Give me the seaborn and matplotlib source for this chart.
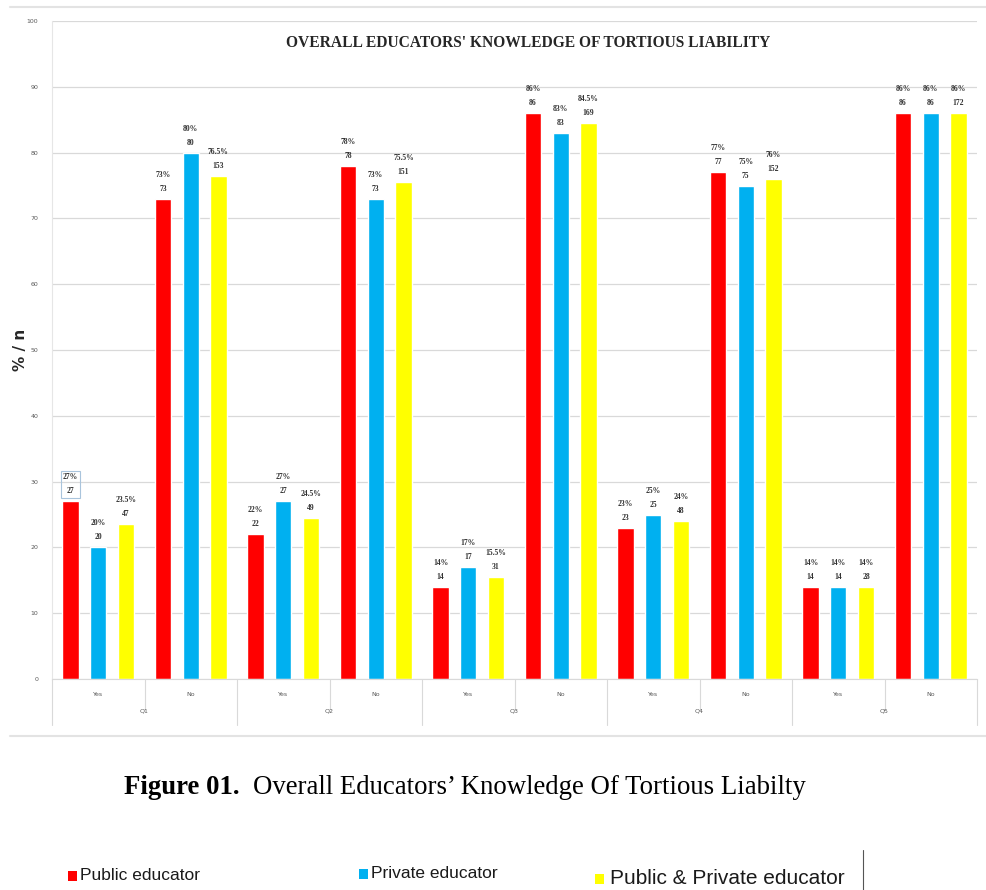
import pandas as pd
import seaborn as sns
import matplotlib.pyplot as plt
from matplotlib.lines import Line2D
from matplotlib.patches import Rectangle

questions = ['Q1', 'Q2', 'Q3', 'Q4', 'Q5']
answers = ['Yes', 'No']
series = ['Public educator', 'Private educator', 'Public & Private educator']
colors = ['#ff0000', '#00b0f0', '#ffff00']

public_pct = [27, 73, 22, 78, 14, 86, 23, 77, 14, 86]
private_pct = [20, 80, 27, 73, 17, 83, 25, 75, 14, 86]
both_pct = [23.5, 76.5, 24.5, 75.5, 15.5, 84.5, 24, 76, 14, 86]
public_n = [27, 73, 22, 78, 14, 86, 23, 77, 14, 86]
private_n = [20, 80, 27, 73, 17, 83, 25, 75, 14, 86]
both_n = [47, 153, 49, 151, 31, 169, 48, 152, 28, 172]

cats = [q + ' ' + a for q in questions for a in answers]
pcts = [public_pct, private_pct, both_pct]
counts = [public_n, private_n, both_n]

rows = []
for s, vals in zip(series, pcts):
    for c, v in zip(cats, vals):
        rows.append({'cat': c, 'series': s, 'pct': v})
df = pd.DataFrame(rows)

sns.set_style('white')
W, H = 986, 890
fig = plt.figure(figsize=(W / 100, H / 100), dpi=100)
ax = fig.add_axes([52 / W, (H - 679) / H, 925 / W, 658 / H])

sns.barplot(data=df, x='cat', y='pct', hue='series', order=cats, hue_order=series,
            palette=colors, saturation=1, width=0.9, gap=0.42, legend=False, ax=ax)

ax.set_xlim(-0.5, len(cats) - 0.5)
ax.set_ylim(0, 100)
ax.set_yticks(range(0, 101, 10))
ax.yaxis.grid(True, color='#d9d9d9', lw=0.9)
ax.set_axisbelow(True)
ax.set_xlabel('')
ax.set_ylabel('')
for sp in ['top', 'right']:
    ax.spines[sp].set_visible(False)
ax.spines['left'].set_color('#e6e6e6')
ax.spines['bottom'].set_color('#d9d9d9')
ax.tick_params(axis='y', labelsize=4.5, labelcolor='#595959', length=0, pad=10)
ax.set_xticks(range(len(cats)))
ax.set_xticklabels([a for q in questions for a in answers])
ax.tick_params(axis='x', labelsize=4.5, labelcolor='#595959', length=0, pad=9)

# data labels: percent and count
for k, (cont, pv, nv) in enumerate(zip(ax.containers, pcts, counts)):
    for j, (bar, p, n) in enumerate(zip(cont, pv, nv)):
        t = ax.text(bar.get_x() + bar.get_width() / 2, bar.get_height() + 0.9,
                    f'{p:g}%\n{n}', ha='center', va='bottom', fontsize=5.5,
                    family='Liberation Serif', fontweight='bold', color='#333333',
                    linespacing=2.0)
        if k == 0 and j == 0:
            t.set_bbox(dict(boxstyle='square,pad=0.3', fc='none', ec='#a9c4dc', lw=0.8))

# multi-level category axis
tr = ax.get_xaxis_transform()
for i, q in enumerate(questions):
    ax.text(2 * i + 0.5, -0.049, q, transform=tr, ha='center', va='center',
            fontsize=4.5, color='#595959')
for b in range(len(cats) + 1):
    x = b - 0.5
    y1 = -0.07 if b % 2 == 0 else -0.045
    ax.add_line(Line2D([x, x], [0, y1], transform=tr, color='#d9d9d9', lw=0.8, clip_on=False))

ax.text((528 - 52) / 925, 0.967, "OVERALL EDUCATORS' KNOWLEDGE OF TORTIOUS LIABILITY",
        transform=ax.transAxes, ha='center', va='center', fontsize=11.2,
        family='Liberation Serif', fontweight='bold', color='#262626')

fig.text(20 / W, 1 - 350 / H, '% / n', rotation=90, ha='center', va='center',
         fontsize=11, fontweight='bold', color='#262626')

# chart frame lines
fig.add_artist(Line2D([10 / W, 1], [1 - 7 / H] * 2, color='#e3e3e3', lw=1.5))
fig.add_artist(Line2D([10 / W, 1], [1 - 736 / H] * 2, color='#e3e3e3', lw=1.5))

# caption
fig.text(124 / W, 1 - 787 / H, 'Figure 01.', ha='left', va='center', fontsize=19.3,
         family='Liberation Serif', fontweight='bold', color='black')
fig.text(253 / W, 1 - 787 / H, 'Overall Educators\u2019 Knowledge Of Tortious Liabilty',
         ha='left', va='center', fontsize=19.3, family='Liberation Serif', color='black')

# legend
sq_x = [68, 359, 595]
txt_x = [80, 371, 610]
txt_y = [876, 874, 879]
sizes = [12.5, 12.5, 15]
for s, c, sx, tx, ty, fs in zip(series, colors, sq_x, txt_x, txt_y, sizes):
    fig.add_artist(Rectangle((sx / W, 1 - (ty + 5) / H), 9 / W, 10 / H,
                             transform=fig.transFigure, color=c, lw=0))
    fig.text(tx / W, 1 - ty / H, s, ha='left', va='center', fontsize=fs,
             family='Liberation Sans', color='#1a1a1a')
fig.add_artist(Line2D([863 / W] * 2, [1 - 850 / H, 0], color='#555555', lw=0.8))

fig.savefig('out.png', dpi=100, facecolor='white')
